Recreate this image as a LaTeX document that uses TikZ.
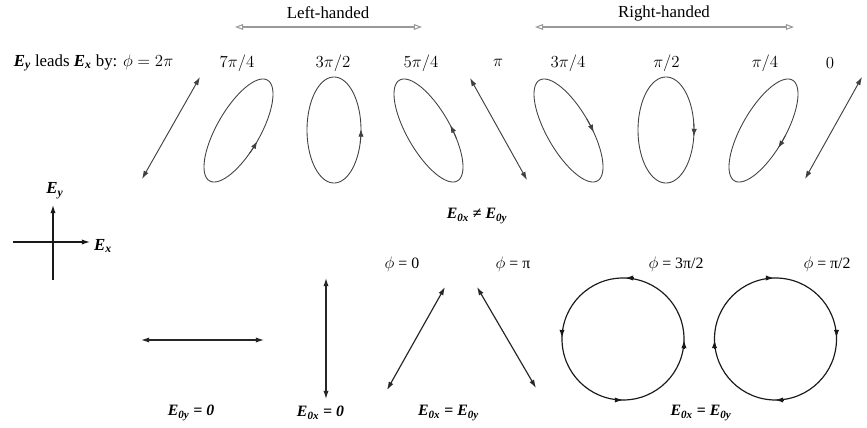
\documentclass[tikz,border=0pt]{standalone}
\usepackage{fontspec}
\setmainfont{Liberation Serif}
\usetikzlibrary{arrows.meta}
\newcommand\Ebf[1]{{\bfseries\itshape E\textsubscript{#1}}}
\newcommand\polell[7]{%
  \draw[ellline] plot[domain=0:360,samples=120,smooth cycle] ({#1+#3*cos(\x)},{#2-#4*cos(\x+#5)});
  \draw[ellline,-{Latex[length=6.5pt,width=4.5pt]}] plot[domain=#6:#7,samples=5,smooth] ({#1+#3*cos(\x)},{#2-#4*cos(\x+#5)});
}
\begin{document}
\begin{tikzpicture}[x=0.03cm,y=-0.03cm,
  ellline/.style={line width=0.75pt,draw=black!75},
  dbl/.style={line width=1pt,draw=black!85,{Latex[length=7pt,width=4.5pt]}-{Latex[length=7pt,width=4.5pt]}},
  hand/.style={line width=0.9pt,draw=black!40,{Triangle[open,length=7pt,width=5pt]}-{Triangle[open,length=7pt,width=5pt]}},
  circ/.style={line width=1pt,draw=black!90},
  tip/.style={line width=1pt,draw=black!90,-{Latex[length=7pt,width=4.5pt]}},
  lbl/.style={inner sep=0pt,font=\fontsize{14.4}{17}\selectfont},
  blbl/.style={inner sep=0pt,font=\fontsize{13.5}{16}\selectfont}]
\useasboundingbox (0,0) rectangle (867,428);
% handedness
\node[lbl] (lh) at (328,13) {Left-handed};
\node[lbl] (rh) at (664,13) {Right-handed};
\coordinate (lha) at (235,27); \coordinate (lhb) at (422,27);
\coordinate (rha) at (535,27); \coordinate (rhb) at (794,27);
\draw[hand] (lha) -- (lhb);
\draw[hand] (rha) -- (rhb);
% phase labels
\node[lbl] (lead) at (93.5,63) {\Ebf{y} leads \Ebf{x} by: $\phi = 2\pi$};
\node[lbl] (p74) at (237,63) {$7\pi/4$};
\node[lbl] (p32) at (333,63) {$3\pi/2$};
\node[lbl] (p54) at (421,63) {$5\pi/4$};
\node[lbl] (p1) at (498,63) {$\pi$};
\node[lbl] (p34) at (568,63) {$3\pi/4$};
\node[lbl] (p12) at (666.5,63) {$\pi/2$};
\node[lbl] (p14) at (765,63) {$\pi/4$};
\node[lbl] (p0) at (830,63) {$0$};
% top row lines
\coordinate (a2a) at (200,77); \coordinate (a2b) at (142,179);
\draw[dbl,draw=black!75,line width=0.8pt] (a2a) -- (a2b);
\coordinate (api) at (470,78); \coordinate (apib) at (527,180);
\draw[dbl,draw=black!75,line width=0.8pt] (api) -- (apib);
\coordinate (a0a) at (862,77); \coordinate (a0b) at (805,179);
\draw[dbl,draw=black!75,line width=0.8pt] (a0a) -- (a0b);
% ellipses
\polell{238.5}{130.5}{34.5}{51.5}{315}{-72}{-57}
\polell{334}{130}{27}{53}{270}{-14}{1}
\polell{428.5}{130.5}{34.5}{51.5}{225}{36}{51}
\polell{568.5}{130.5}{34.5}{51.5}{135}{-58}{-43}
\polell{666}{130}{28}{53}{90}{-8}{7}
\polell{763.5}{130.5}{34.5}{51.5}{45}{50}{65}
% axes
\coordinate (ax0) at (13,242); \coordinate (ax1) at (90,242);
\coordinate (ay0) at (53,280); \coordinate (ay1) at (53,205);
\draw[tip] (ax0) -- (ax1);
\draw[tip] (ay0) -- (ay1);
\node[lbl] (ey) at (55,191) {\Ebf{y}};
\node[lbl] (ex) at (103,246) {\Ebf{x}};
\node[blbl] (neq) at (477,216) {\Ebf{0x} {\bfseries≠} \Ebf{0y}};
% bottom row
\coordinate (h0) at (141,340); \coordinate (h1) at (264,340);
\draw[dbl] (h0) -- (h1);
\coordinate (v0) at (326,278); \coordinate (v1) at (326,399);
\draw[dbl] (v0) -- (v1);
\coordinate (z0) at (445,287); \coordinate (z1) at (387,390);
\draw[dbl] (z0) -- (z1);
\coordinate (q0) at (477,287); \coordinate (q1) at (536,388);
\draw[dbl] (q0) -- (q1);
\node[blbl] (f0) at (402,264) {$\phi$ = 0};
\node[blbl] (fpi) at (513,264) {$\phi$ = π};
\node[blbl] (f32) at (676,264) {$\phi$ = 3π/2};
\node[blbl] (f12) at (827,264) {$\phi$ = π/2};
\node[blbl] (b1) at (191,413) {\Ebf{0y} {\bfseries\itshape = 0}};
\node[blbl] (b2) at (320.5,413) {\Ebf{0x} {\bfseries\itshape = 0}};
\node[blbl] (b3) at (448.5,413) {\Ebf{0x} {\bfseries =} \Ebf{0y}};
\node[blbl] (b4) at (701,413) {\Ebf{0x} {\bfseries =} \Ebf{0y}};
% circles
\coordinate (c1) at (623,339); \coordinate (c2) at (775.5,339);
\draw[circ] (c1) circle[radius=61];
\draw[circ] (c2) circle[radius=61];
\draw[tip] (633,278) -- (625,278);
\draw[tip] (562,330) -- (562,338);
\draw[tip] (615,400) -- (623,400);
\draw[tip] (684,348) -- (684,340);
\draw[tip] (766,278) -- (774,278);
\draw[tip] (836.5,330) -- (836.5,338);
\draw[tip] (783,400) -- (775,400);
\draw[tip] (714.5,348) -- (714.5,340);
\end{tikzpicture}
\end{document}
